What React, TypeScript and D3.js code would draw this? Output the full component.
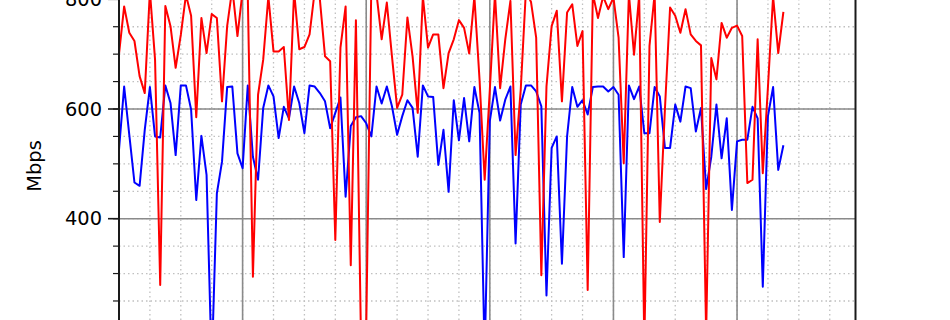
import React from "react";
import * as d3 from "d3";

// Throughput samples (Mbps), one per step
const redSeries: number[] = [
  700, 787, 739, 724, 660, 629, 815, 690, 279, 788, 751, 675, 735, 808, 770,
  585, 766, 702, 773, 766, 614, 751, 820, 733, 815, 810, 294, 626, 690, 805,
  705, 705, 713, 580, 815, 709, 713, 736, 815, 800, 696, 687, 361, 712, 787,
  315, 762, 170, 200, 830, 810, 727, 794, 696, 602, 626, 767, 696, 593, 805,
  712, 736, 736, 638, 702, 727, 762, 748, 701, 805, 654, 471, 635, 810, 638,
  727, 797, 516, 635, 815, 795, 730, 297, 641, 751, 779, 614, 776, 791, 715,
  742, 270, 810, 766, 805, 782, 803, 730, 501, 810, 699, 808, 170, 715, 810,
  394, 600, 785, 770, 739, 782, 736, 724, 716, 190, 693, 654, 757, 730, 748,
  752, 733, 465, 471, 727, 483, 640, 805, 702, 777,
];

const blueSeries: number[] = [
  526, 641, 553, 466, 460, 562, 640, 550, 548, 643, 611, 516, 643, 643, 599,
  434, 551, 480, 130, 446, 504, 640, 641, 519, 492, 643, 513, 471, 602, 643,
  623, 547, 604, 583, 641, 611, 556, 643, 641, 629, 614, 565, 593, 621, 440,
  569, 585, 587, 574, 550, 641, 610, 641, 605, 553, 587, 616, 602, 513, 643,
  623, 622, 498, 562, 449, 616, 543, 620, 541, 640, 593, 150, 578, 640, 579,
  617, 641, 355, 608, 643, 643, 632, 605, 260, 529, 550, 318, 550, 640, 604,
  616, 590, 640, 641, 641, 632, 640, 626, 330, 643, 618, 641, 556, 556, 640,
  623, 529, 529, 608, 577, 641, 638, 559, 602, 454, 513, 608, 510, 583, 416,
  541, 544, 544, 604, 583, 276, 587, 640, 489, 534,
];

const yMajorTicks: number[] = [200, 400, 600, 800];
const yLabelTicks: number[] = [400, 600, 800];
const yTickLabels: string[] = ["400", "600", "800"];
const yMinorTicks: number[] = d3.range(150, 901, 50);
const xMajorTicks: number[] = [0, 24, 48, 72, 96, 120];
const xMinorTicks: number[] = d3.range(0, 143, 6);
const yAxisLabel = "Mbps";

const W = 950;
const H = 320;
const LEFT = 119;
const RIGHT = 855.5;

export default function App() {
  const x = d3.scaleLinear().domain([0, 143]).range([LEFT, RIGHT]);
  const y = d3.scaleLinear().domain([400, 600]).range([218.7, 109]);

  const line = d3
    .line<number>()
    .x((_, i) => x(i))
    .y((d) => y(d));

  const font = "'DejaVu Sans', sans-serif";

  return (
    <svg
      width={W}
      height={H}
      style={{ position: "absolute", left: 0, top: 0, background: "#fff" }}
    >
      <rect x={0} y={0} width={W} height={H} fill="#fff" />
      {/* minor grid */}
      {yMinorTicks.map((t) => (
        <line
          key={"ym" + t}
          x1={LEFT}
          x2={RIGHT}
          y1={y(t)}
          y2={y(t)}
          stroke="#c0c0c0"
          strokeWidth={1.3}
          strokeDasharray="1.5 3"
        />
      ))}
      {xMinorTicks.map((t) => (
        <line
          key={"xm" + t}
          x1={x(t)}
          x2={x(t)}
          y1={-10}
          y2={H + 10}
          stroke="#c0c0c0"
          strokeWidth={1.3}
          strokeDasharray="1.5 3"
        />
      ))}
      {/* major grid */}
      {yMajorTicks.map((t) => (
        <line
          key={"yM" + t}
          x1={LEFT}
          x2={RIGHT}
          y1={y(t)}
          y2={y(t)}
          stroke="#8a8a8a"
          strokeWidth={1.6}
        />
      ))}
      {xMajorTicks.map((t) => (
        <line
          key={"xM" + t}
          x1={x(t)}
          x2={x(t)}
          y1={-10}
          y2={H + 10}
          stroke="#8a8a8a"
          strokeWidth={1.6}
        />
      ))}
      {/* data */}
      <path d={line(blueSeries) || ""} fill="none" stroke="#0000ff" strokeWidth={2} strokeLinejoin="round" />
      <path d={line(redSeries) || ""} fill="none" stroke="#ff0000" strokeWidth={2} strokeLinejoin="round" />
      {/* spines */}
      <line x1={LEFT} x2={LEFT} y1={-10} y2={H + 10} stroke="#1a1a1a" strokeWidth={2} />
      <line x1={RIGHT} x2={RIGHT} y1={-10} y2={H + 10} stroke="#1a1a1a" strokeWidth={2} />
      {/* y ticks */}
      {yMinorTicks.map((t) => (
        <line key={"ytm" + t} x1={LEFT - 6} x2={LEFT} y1={y(t)} y2={y(t)} stroke="#1a1a1a" strokeWidth={1.2} />
      ))}
      {yMajorTicks.map((t) => (
        <line key={"ytM" + t} x1={LEFT - 11} x2={LEFT} y1={y(t)} y2={y(t)} stroke="#1a1a1a" strokeWidth={1.6} />
      ))}
      {yLabelTicks.map((t, i) => (
        <text
          key={"ytl" + t}
          x={LEFT - 17}
          y={y(t)}
          textAnchor="end"
          dominantBaseline="central"
          fontFamily={font}
          fontSize={19.4}
          fill="#000"
        >
          {yTickLabels[i]}
        </text>
      ))}
      <text
        transform={`translate(34.5, ${166}) rotate(-90)`}
        textAnchor="middle"
        dominantBaseline="central"
        fontFamily={font}
        fontSize={19.4}
        fill="#000"
      >
        {yAxisLabel}
      </text>
    </svg>
  );
}
